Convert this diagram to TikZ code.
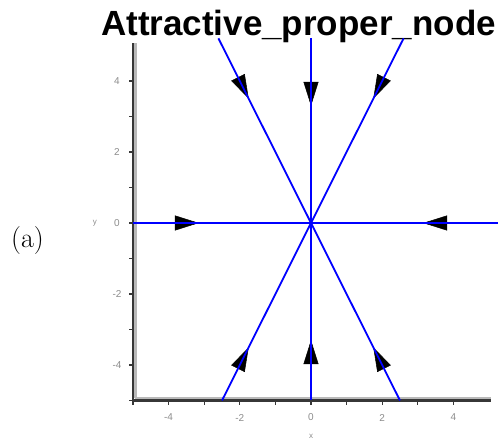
\documentclass[tikz,border=0pt]{standalone}
\usepackage{fontspec}
\newfontfamily\plotfont{Liberation Sans}
\usetikzlibrary{arrows.meta}
\definecolor{fieldblue}{RGB}{0,0,255}
\definecolor{axisdark}{RGB}{55,55,55}
\definecolor{axislight}{RGB}{185,185,185}
\definecolor{ticktext}{RGB}{140,140,140}

\begin{document}
\begin{tikzpicture}[x=1pt,y=1pt,
  fieldline/.style={fieldblue, line width=1.8pt},
  flowtip/.style={black, line width=0.5pt, -{Triangle[length=24pt,width=15pt]}},
  ticklab/.style={text=ticktext, font=\plotfont\fontsize{10}{11}\selectfont, inner sep=1pt}]
\useasboundingbox (0,0) rectangle (498,441);
% Title and panel label
\node[font=\plotfont\bfseries\fontsize{35}{40}\selectfont, anchor=base, inner sep=0pt] (title) at (298.5,405) {Attractive\_proper\_node};
\node[font=\fontsize{28}{32}\selectfont, anchor=base, inner sep=0pt] (panel) at (27.5,193) {(a)};
% Phase plane (data coordinates)
\begin{scope}[shift={(311,218)}, x=35.6pt, y=35.5pt]
% Axes box
\draw[axislight, line width=2.5pt] (-4.93,-4.93) -- (-4.93,5.07);
\draw[axislight, line width=2.5pt] (-4.93,-4.93) -- (5.05,-4.93);
\draw[axisdark, line width=2.2pt] (-5,5.07) -- (-5,-5) -- (5.05,-5);
\foreach \t in {-5,...,4} {
  \draw[axisdark, line width=1.2pt] (-5,\t) -- (-5.12,\t);
  \draw[axisdark, line width=1.2pt] (\t,-5) -- (\t,-5.12);
}
\foreach \v [count=\k] in {-4,-2,0,2,4} {
  \node[ticklab] (ylab\k) at (-5.45,\v) {\v};
  \node[ticklab] (xlab\k) at (\v,-5.48) {\v};
}
\node[ticklab, font=\plotfont\fontsize{8}{9}\selectfont] (yname) at (-6.07,0) {y};
\node[ticklab, font=\plotfont\fontsize{8}{9}\selectfont] (xname) at (0,-6.0) {x};
% Arrowheads (towards the node)
\draw[flowtip] (0,4.0) -- (0,3.3);
\draw[flowtip] (0,-4.0) -- (0,-3.3);
\draw[flowtip] (-4.0,0) -- (-3.15,0);
\draw[flowtip] (4.0,0) -- (3.15,0);
\draw[flowtip] (-2.25,4.5) -- (-1.75,3.5);
\draw[flowtip] (2.25,4.5) -- (1.75,3.5);
\draw[flowtip] (-2.25,-4.5) -- (-1.75,-3.5);
\draw[flowtip] (2.25,-4.5) -- (1.75,-3.5);
% Eigen directions
\draw[fieldline] (-5,0) -- (5.25,0);
\draw[fieldline] (0,-5) -- (0,5.2);
\draw[fieldline] (-2.5,-5) -- (2.6,5.2);
\draw[fieldline] (2.5,-5) -- (-2.6,5.2);
\end{scope}
\end{tikzpicture}
\end{document}
